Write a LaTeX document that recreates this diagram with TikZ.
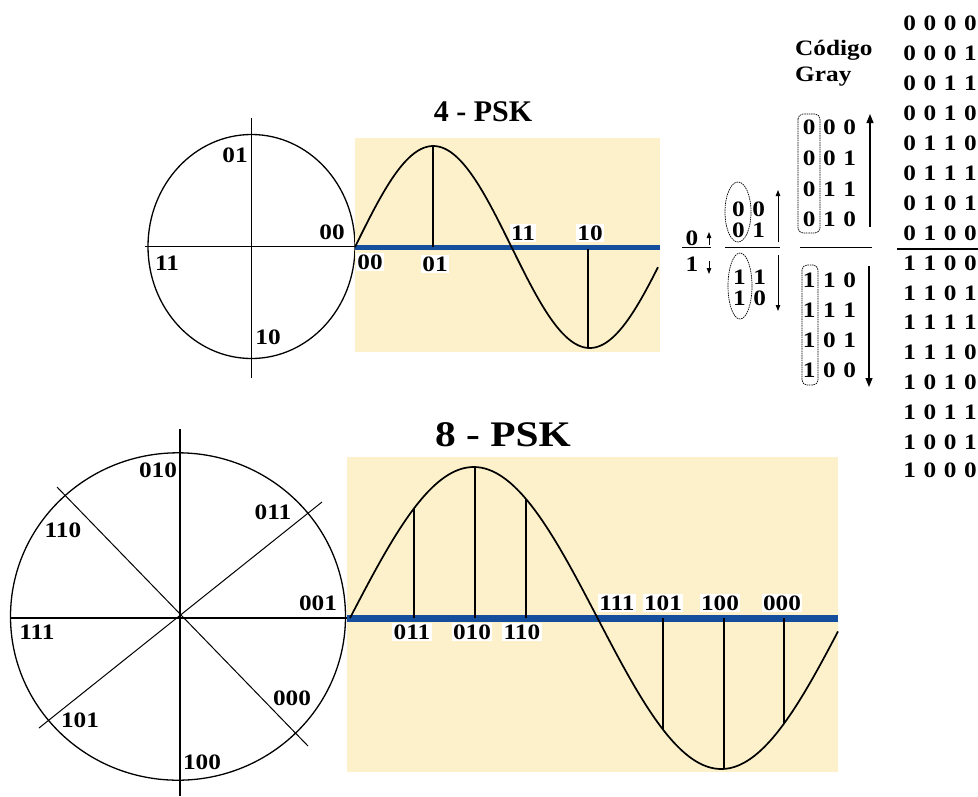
\documentclass[tikz,border=0pt]{standalone}
\usepackage{graphicx}
\usepackage{fontspec}
\setmainfont{Liberation Serif}
\usetikzlibrary{arrows.meta}
\definecolor{panelyellow}{RGB}{252,241,202}
\definecolor{axisblue}{RGB}{22,78,158}
\newcommand{\myhs}[1]{\scalebox{1.15}[1]{#1}}
\newcommand{\grtwo}[2]{\myhs{#1\hspace{0.3em}#2}}
\newcommand{\grthree}[3]{\myhs{#1\hspace{0.3em}#2\hspace{0.3em}#3}}
\newcommand{\grfour}[4]{\myhs{#1\hspace{0.3em}#2\hspace{0.3em}#3\hspace{0.3em}#4}}
\begin{document}
\begin{tikzpicture}[x=1pt, y=-1pt,
  lbl/.style={font=\fontsize{22}{24}\selectfont\bfseries, inner sep=0pt},
  wlbl/.style={lbl, fill=white, inner xsep=1.5pt, inner ysep=2pt},
  gd/.style={font=\fontsize{22}{24}\selectfont\bfseries, inner sep=0pt},
  ttlfour/.style={font=\fontsize{30}{32}\selectfont\bfseries, inner sep=0pt},
  ttleight/.style={font=\fontsize{36}{38}\selectfont\bfseries, inner sep=0pt},
  circ/.style={line width=1.3pt},
  ax/.style={line width=1.4pt},
  wave/.style={line width=1.7pt, line join=round},
  vline/.style={line width=1.2pt},
  band/.style={draw=axisblue, line cap=butt},
  garrow/.style={line width=1.1pt, -{Triangle[width=7pt,length=9pt]}},
  sarrow/.style={line width=0.9pt, -{Triangle[width=4.5pt,length=6pt]}},
  ring/.style={line width=0.7pt, dash pattern=on 1.5pt off 0.8pt},
  panel/.style={fill=panelyellow}
]
\useasboundingbox (0,0) rectangle (978,796);

% ================= 4-PSK =================
\coordinate (o4) at (251.5,246.5);
\draw[circ] (o4) ellipse [x radius=103.5, y radius=112];
\coordinate (h4l) at (145,246.5);
\coordinate (h4r) at (355,246.5);
\coordinate (v4t) at (251.5,118);
\coordinate (v4b) at (251.5,378);
\draw[ax] (h4l) -- (h4r);
\draw[ax] (v4t) -- (v4b);

\node[lbl] (p4a) at (235,155) {\myhs{01}};
\node[lbl] (p4b) at (332,232) {\myhs{00}};
\node[lbl] (p4c) at (167,263) {\myhs{11}};
\node[lbl] (p4d) at (268,337) {\myhs{10}};

\fill[panel] (355,138) rectangle (660,352);
\coordinate (b4l) at (355,247);
\coordinate (b4r) at (660,247);
\draw[band, line width=5pt] (b4l) -- (b4r);
\draw[wave] plot[domain=355:658, samples=150] (\x, {247-101*sin((\x-355)/313*360)});
\draw[vline] (433,247) -- (433,{247-101*sin((433-355)/313*360)});
\draw[vline] (588,249) -- (588,{247-101*sin((588-355)/313*360)});

\node[ttlfour] (t4) at (483,112) {4 - PSK};
\node[wlbl] (w4a) at (370,262) {\myhs{00}};
\node[wlbl] (w4b) at (435,264) {\myhs{01}};
\node[wlbl] (w4c) at (523,233) {\myhs{11}};
\node[wlbl] (w4d) at (590,233) {\myhs{10}};

% ================= 8-PSK =================
\coordinate (o8) at (178,616.5);
\draw[circ] (o8) ellipse [x radius=167.5, y radius=163.7];
\coordinate (h8l) at (10,618);
\coordinate (h8r) at (347,618);
\coordinate (v8t) at (180,429);
\coordinate (v8b) at (180,796);
\coordinate (d1a) at (57,487);
\coordinate (d1b) at (308,746);
\coordinate (d2a) at (322,502);
\coordinate (d2b) at (39,728);
\draw[line width=2.5pt] (h8l) -- (h8r);
\draw[ax] (v8t) -- (v8b);
\draw[line width=1pt] (d1a) -- (d1b);
\draw[line width=1pt] (d2a) -- (d2b);

\node[lbl] (p8a) at (158,470) {\myhs{010}};
\node[lbl] (p8b) at (273,512) {\myhs{011}};
\node[lbl] (p8c) at (63,530) {\myhs{110}};
\node[lbl] (p8d) at (318,603) {\myhs{001}};
\node[lbl] (p8e) at (37,632) {\myhs{111}};
\node[lbl] (p8f) at (292,698) {\myhs{000}};
\node[lbl] (p8g) at (80,720) {\myhs{101}};
\node[lbl] (p8h) at (202,762) {\myhs{100}};

\fill[panel] (347,457) rectangle (838,772);
\coordinate (b8l) at (347,618);
\coordinate (b8r) at (838,618);
\draw[band, line width=7pt] (b8l) -- (b8r);
\draw[wave] plot[domain=350:838, samples=200] (\x, {618-151*sin((\x-350)/495*360)});
\foreach \xx in {414,475,526,663,724,784}{
  \draw[vline] (\xx,618) -- (\xx,{618-151*sin((\xx-350)/495*360)});
}
\node[ttleight] (t8) at (503,435) {\myhs{8 - PSK}};
\node[wlbl] (w8a) at (412,632) {\myhs{011}};
\node[wlbl] (w8b) at (472,632) {\myhs{010}};
\node[wlbl] (w8c) at (522,632) {\myhs{110}};
\node[wlbl] (w8d) at (617,603) {\myhs{111}};
\node[wlbl] (w8e) at (663,603) {\myhs{101}};
\node[wlbl] (w8f) at (720,603) {\myhs{100}};
\node[wlbl] (w8g) at (782,603) {\myhs{000}};

% ================= Gray code =================
% 1 bit
\node[gd] (f0) at (692,238) {\myhs{0}};
\node[gd] (f1) at (692,264) {\myhs{1}};
\coordinate (fa0) at (709,245);
\coordinate (fa1) at (709,232);
\coordinate (fb0) at (709,261);
\coordinate (fb1) at (709,274);
\draw[sarrow] (fa0) -- (fa1);
\draw[sarrow] (fb0) -- (fb1);
\coordinate (fl0) at (682,247);
\coordinate (fl1) at (711,247);
\draw[line width=1pt] (fl0) -- (fl1);

% 2 bit
\node[gd] (b2r0) at (748.5,209) {\grtwo00};
\node[gd] (b2r1) at (748.5,230) {\grtwo01};
\node[gd] (b2r2) at (749.5,277) {\grtwo11};
\node[gd] (b2r3) at (749.5,298) {\grtwo10};
\draw[ring] (738,212) ellipse [x radius=13, y radius=30];
\draw[ring] (740,286) ellipse [x radius=12, y radius=33];
\coordinate (ua0) at (778,242);
\coordinate (ua1) at (778,190);
\coordinate (da0) at (778,255);
\coordinate (da1) at (778,311);
\draw[sarrow] (ua0) -- (ua1);
\draw[sarrow] (da0) -- (da1);
\coordinate (sl0) at (725,247);
\coordinate (sl1) at (780,247);
\draw[line width=1pt] (sl0) -- (sl1);

% 3 bit
\node[gd] (c3r0) at (829.5,127) {\grthree000};
\node[gd] (c3r1) at (829.5,158) {\grthree001};
\node[gd] (c3r2) at (829.5,189) {\grthree011};
\node[gd] (c3r3) at (829.5,219) {\grthree010};
\node[gd] (c3r4) at (829.5,280) {\grthree110};
\node[gd] (c3r5) at (829.5,310) {\grthree111};
\node[gd] (c3r6) at (829.5,340) {\grthree101};
\node[gd] (c3r7) at (829.5,370) {\grthree100};
\draw[ring, rounded corners=5pt] (798,114) rectangle (820,233);
\draw[ring, rounded corners=5pt] (802,265) rectangle (818,385);
\coordinate (ub0) at (870,227);
\coordinate (ub1) at (870,114);
\coordinate (db0) at (869,266);
\coordinate (db1) at (869,387);
\draw[garrow] (ub0) -- (ub1);
\draw[garrow] (db0) -- (db1);
\coordinate (tl0) at (800,247);
\coordinate (tl1) at (872,247);
\draw[line width=1pt] (tl0) -- (tl1);

\node[gd, anchor=west] (cg1) at (795,50) {\myhs{Código}};
\node[gd, anchor=west] (cg2) at (795,77) {\myhs{Gray}};

% 4 bit
\node[gd] (g0) at (940,23) {\grfour0000};
\node[gd] (g1) at (940,53) {\grfour0001};
\node[gd] (g2) at (940,83) {\grfour0011};
\node[gd] (g3) at (940,113) {\grfour0010};
\node[gd] (g4) at (940,143) {\grfour0110};
\node[gd] (g5) at (940,173) {\grfour0111};
\node[gd] (g6) at (940,203) {\grfour0101};
\node[gd] (g7) at (940,233) {\grfour0100};
\node[gd] (g8) at (940,263) {\grfour1100};
\node[gd] (g9) at (940,293) {\grfour1101};
\node[gd] (g10) at (940,322) {\grfour1111};
\node[gd] (g11) at (940,352) {\grfour1110};
\node[gd] (g12) at (940,382) {\grfour1010};
\node[gd] (g13) at (940,412) {\grfour1011};
\node[gd] (g14) at (940,442) {\grfour1001};
\node[gd] (g15) at (940,470) {\grfour1000};
\coordinate (ql0) at (897,249);
\coordinate (ql1) at (978,249);
\draw[line width=1.2pt] (ql0) -- (ql1);
\end{tikzpicture}
\end{document}
